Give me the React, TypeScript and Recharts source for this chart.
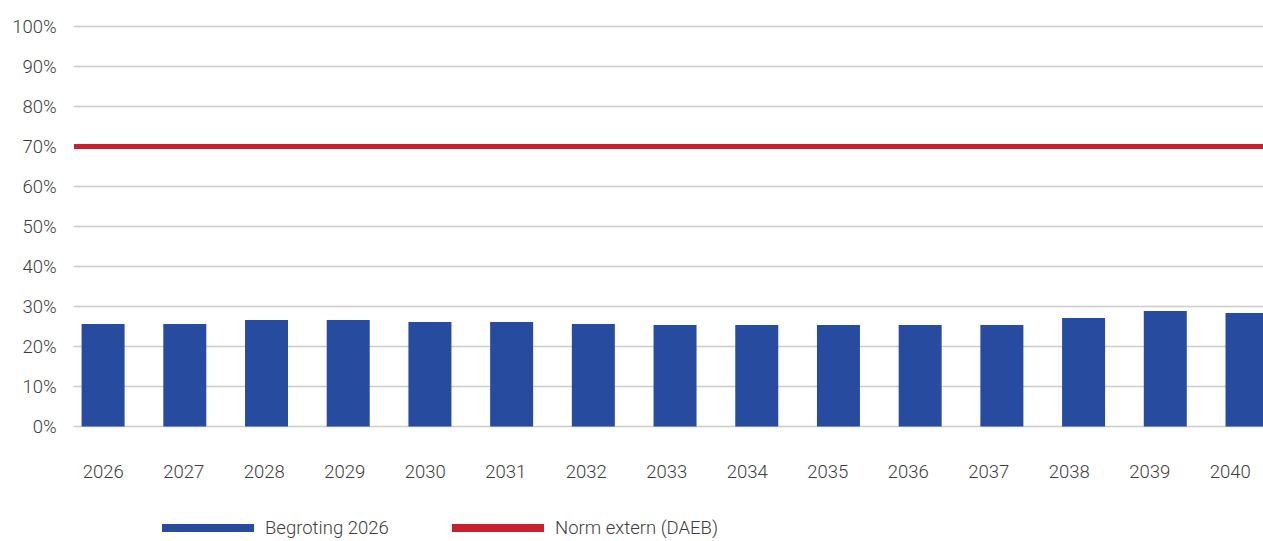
import React from "react";
import {
  BarChart,
  Bar,
  XAxis,
  YAxis,
  CartesianGrid,
  ReferenceLine,
  Legend,
} from "recharts";

const years = ["2026", "2027", "2028", "2029", "2030", "2031", "2032", "2033", "2034", "2035", "2036", "2037", "2038", "2039", "2040"];
const begroting2026 = [25.6, 25.6, 26.6, 26.6, 26.1, 26.1, 25.6, 25.4, 25.4, 25.4, 25.4, 25.4, 27.1, 28.9, 28.4];
const normExtern = 70;
const yTicks = [0, 10, 20, 30, 40, 50, 60, 70, 80, 90, 100];

const data = years.map((year, i) => ({ year, begroting: begroting2026[i] }));

const BLUE = "#274c9f";
const RED = "#c8202f";
const TEXT = "#3d3d3d";
const FONT = "Roboto, 'Liberation Sans', sans-serif";
const FONT_SIZE = 18.5;
// grid + norm line start a bit right of the plot's left edge, like the original
const GRID_INSET = 11.4;

const legendItems = [
  { label: "Begroting 2026", color: BLUE },
  { label: "Norm extern (DAEB)", color: RED },
];

function LegendContent() {
  return (
    <div style={{ display: "flex", height: 26, alignItems: "center", paddingLeft: 162, fontFamily: FONT, fontWeight: 300, fontSize: FONT_SIZE, color: TEXT }}>
      {legendItems.map((it) => (
        <div key={it.label} style={{ width: 290, display: "flex", alignItems: "center" }}>
          <span style={{ display: "inline-block", width: 92, height: 8, background: it.color, marginRight: 11 }} />
          <span>{it.label}</span>
        </div>
      ))}
    </div>
  );
}

const tickStyle = { fill: TEXT, fontSize: FONT_SIZE, fontFamily: FONT, fontWeight: 300 };

export default function App() {
  return (
    <div style={{ width: 1263, height: 541, overflow: "hidden", background: "#fff", position: "relative" }}>
      <style>{`body { margin: 0; overflow: hidden; }`}</style>
      <BarChart
        width={1289}
        height={541}
        data={data}
        margin={{ top: 26.5, right: 0.8, bottom: 24.5, left: 0 }}
      >
        <CartesianGrid
          vertical={false}
          horizontal={(p: any) => (
            <line key={p.key} x1={p.x1 + GRID_INSET} x2={p.x2} y1={p.y1} y2={p.y2} stroke="#cccccc" strokeWidth={1.3} />
          )}
        />
        <XAxis dataKey="year" hide height={0} />
        <XAxis
          xAxisId="lbl"
          dataKey="year"
          height={64}
          axisLine={false}
          tickLine={false}
          tickSize={0}
          tickMargin={38.5}
          padding={{ left: 0.4, right: 17.7 }}
          interval={0}
          tick={tickStyle}
        />
        <YAxis
          width={62.6}
          domain={[0, 100]}
          ticks={yTicks}
          axisLine={false}
          tickLine={false}
          tickSize={0}
          tickMargin={6}
          tickFormatter={(v) => `${v}%`}
          tick={tickStyle}
        />
        <Bar dataKey="begroting" name="Begroting 2026" fill={BLUE} barSize={43} isAnimationActive={false} />
        <ReferenceLine
          y={normExtern}
          stroke={RED}
          strokeWidth={5}
          shape={(p: any) => (
            <line x1={p.x1 + GRID_INSET} x2={p.x2} y1={p.y1} y2={p.y2} stroke={RED} strokeWidth={5} />
          )}
        />
        <Legend verticalAlign="bottom" content={<LegendContent />} wrapperStyle={{ bottom: 0, left: 0 }} />
      </BarChart>
    </div>
  );
}
